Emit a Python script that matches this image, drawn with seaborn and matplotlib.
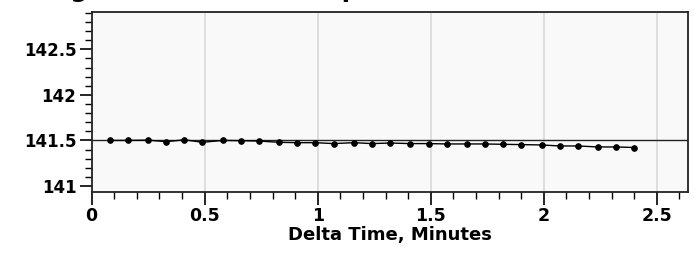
import matplotlib
matplotlib.use('Agg')
import matplotlib.pyplot as plt
from matplotlib.ticker import MultipleLocator
import seaborn as sns
import pandas as pd

# data
delta_min = [0.08, 0.16, 0.25, 0.33, 0.41, 0.49, 0.58, 0.66, 0.74, 0.83,
             0.91, 0.99, 1.07, 1.16, 1.24, 1.32, 1.41, 1.49, 1.57, 1.66,
             1.74, 1.82, 1.90, 1.99, 2.07, 2.15, 2.24, 2.32, 2.40]
reading = [141.500, 141.500, 141.503, 141.486, 141.507, 141.479, 141.500, 141.497,
           141.493, 141.479, 141.475, 141.475, 141.465, 141.475, 141.465, 141.471,
           141.465, 141.465, 141.461, 141.461, 141.461, 141.457, 141.454, 141.450,
           141.439, 141.439, 141.428, 141.428, 141.422]
ref_level = 141.5
x_ticks = [0, 0.5, 1, 1.5, 2, 2.5]
x_tick_labels = ['0', '0.5', '1', '1.5', '2', '2.5']
y_ticks = [141, 141.5, 142, 142.5]
y_tick_labels = ['141', '141.5', '142', '142.5']
title = 'Long Term Balance Temperature'
x_label = 'Delta Time, Minutes'

df = pd.DataFrame({'t': delta_min, 'v': reading})

sns.set_style('ticks')
plt.rcParams['font.family'] = ['DejaVu Sans']
plt.rcParams['text.color'] = 'black'
plt.rcParams['xtick.color'] = 'black'
plt.rcParams['ytick.color'] = 'black'
plt.rcParams['axes.labelcolor'] = 'black'

fig = plt.figure(figsize=(6.94, 2.64), dpi=100)
ax = fig.add_axes([0.1321, 0.274, 0.859, 0.6805])
ax.set_facecolor('#f9f9f9')

ax.axhline(ref_level, color='#222222', lw=1.0, zorder=2)
sns.lineplot(data=df, x='t', y='v', ax=ax, color='black', lw=1.0,
             marker='o', markersize=4, markeredgecolor='black', zorder=3)

ax.set_xlim(0, 2.637)
ax.set_ylim(140.937, 142.91)
ax.set_xticks(x_ticks)
ax.set_xticklabels(x_tick_labels, fontsize=12.5, fontweight='bold')
ax.set_yticks(y_ticks)
ax.set_yticklabels(y_tick_labels, fontsize=12, fontweight='bold')
ax.xaxis.set_minor_locator(MultipleLocator(0.1))
ax.yaxis.set_minor_locator(MultipleLocator(0.1))
ax.tick_params(axis='both', which='major', length=9, width=1.2, color='black', pad=2)
ax.tick_params(axis='both', which='minor', length=5, width=1.0, color='black')
ax.grid(axis='x', which='major', color='#d9d9d9', lw=1.2)
ax.set_axisbelow(True)

for s in ax.spines.values():
    s.set_color('#222222')
    s.set_linewidth(1.3)

ax.set_xlabel(x_label, fontsize=13, fontweight='bold', labelpad=1)
ax.set_ylabel('')

# title sits above the canvas, only the descenders show
fig.text(0.03, 1.01, title, fontsize=17.5, fontweight='bold', va='baseline', ha='left')

fig.savefig('out.png', dpi=100)
